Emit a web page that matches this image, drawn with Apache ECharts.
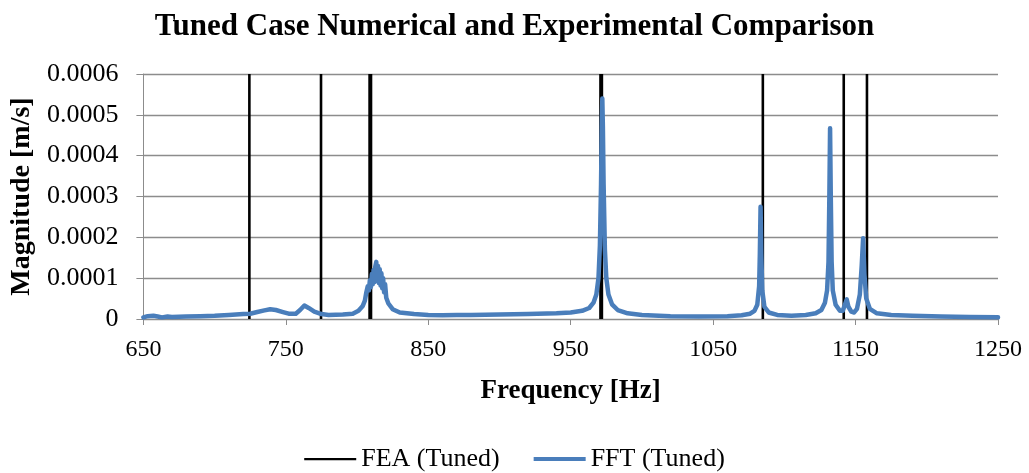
<!DOCTYPE html>
<html>
<head>
<meta charset="utf-8">
<script src="https://cdn.jsdelivr.net/npm/echarts@6/dist/echarts.min.js"></script>
<style>html,body{margin:0;padding:0;background:#fff}#c{width:1029px;height:473px}</style>
</head>
<body>
<div id="c"></div>
<script>
const titleText = 'Tuned Case Numerical and Experimental Comparison';
const xName = 'Frequency [Hz]';
const yName = 'Magnitude [m/s]';
const feaName = 'FEA (Tuned)';
const fftName = 'FFT (Tuned)';

// FEA natural frequencies (vertical lines)
const feaFreqs = [724.4, 774.7, 808.8, 809.8, 970.9, 971.9, 1084.9, 1141.7, 1158.0];
const feaTop = 0.0006;

// FFT measured spectrum
const fftFreq = [650,653,657,660,663,667,670,680,690,700,710,720,725,730,735,739,743,748,752,757,760,763,766,770,775,780,790,797,801,804,805.5,806.5,807.5,808.3,809,809.7,810.4,811,811.6,812.2,812.8,813.5,814.1,814.7,815.3,815.9,816.5,817.1,817.7,818.3,819,819.7,820.5,822,825,830,840,850,860,870,880,900,920,940,950,958,963,966,968,969.5,970.5,971.3,971.8,972.2,972.6,973.1,974,975,976.5,979,983,990,1000,1020,1040,1060,1070,1076,1079,1081,1082.3,1082.8,1083.3,1083.8,1084.5,1086,1089,1095,1105,1115,1122,1126,1128.5,1130,1131,1131.6,1132.1,1132.6,1133.2,1134,1136,1139,1141,1142.5,1143.8,1145,1147,1149,1151,1153,1154.3,1155.3,1156.2,1157.5,1160,1165,1175,1190,1210,1230,1250];
const fftMag = [0.000004,0.000007,0.000008,0.000006,0.000004,0.000006,0.000005,0.000006,0.000007,0.000008,0.000010,0.000012,0.000013,0.000017,0.000021,0.000024,0.000022,0.000017,0.000013,0.000013,0.000022,0.000033,0.000027,0.000018,0.000012,0.000010,0.000011,0.000013,0.000020,0.000032,0.000045,0.000065,0.000080,0.000070,0.000095,0.000078,0.000110,0.000085,0.000120,0.000090,0.000128,0.000140,0.000095,0.000130,0.000088,0.000122,0.000082,0.000112,0.000075,0.000100,0.000065,0.000085,0.000052,0.000038,0.000024,0.000016,0.000012,0.000010,0.000009,0.000010,0.000010,0.000011,0.000012,0.000014,0.000016,0.000020,0.000027,0.000040,0.000060,0.000100,0.000180,0.000330,0.000470,0.000540,0.000470,0.000330,0.000170,0.000100,0.000060,0.000036,0.000022,0.000014,0.000010,0.000007,0.000006,0.000007,0.000009,0.000013,0.000020,0.000035,0.000080,0.000160,0.000275,0.000160,0.000070,0.000030,0.000016,0.000010,0.000008,0.000010,0.000014,0.000022,0.000040,0.000070,0.000140,0.000300,0.000467,0.000300,0.000140,0.000070,0.000035,0.000020,0.000020,0.000035,0.000048,0.000030,0.000018,0.000016,0.000025,0.000060,0.000130,0.000198,0.000110,0.000050,0.000025,0.000014,0.000010,0.000008,0.000006,0.000005,0.000004];

const xTicks = [650, 750, 850, 950, 1050, 1150, 1250];
const yTicks = [0, 0.0001, 0.0002, 0.0003, 0.0004, 0.0005, 0.0006];

const feaData = [];
feaFreqs.forEach(f => { feaData.push([f, 0], [f, feaTop], [f, '-']); });
const fftData = fftFreq.map((f, i) => [f, fftMag[i]]);

const serif = '"Liberation Serif", "DejaVu Serif", serif';
const chart = echarts.init(document.getElementById('c'));
chart.setOption({
  animation: false,
  backgroundColor: '#fff',
  title: {
    text: titleText, left: 'center', top: 6,
    textStyle: { fontFamily: serif, fontSize: 31, fontWeight: 'bold', color: '#000' }
  },
  legend: {
    top: 441, left: 'center', itemWidth: 52, itemHeight: 14, itemGap: 34,
    textStyle: { fontFamily: serif, fontSize: 26, color: '#000' },
    data: [
      { name: feaName, icon: 'path://M0,0h0.05v0.05h-0.05zM0,6h52v2.2h-52zM0,13.95h0.05v0.05h-0.05z', itemStyle: { color: '#000' } },
      { name: fftName, icon: 'path://M0,0h0.05v0.05h-0.05zM0,5h52v4h-52zM0,13.95h0.05v0.05h-0.05z', itemStyle: { color: '#4a7ebb' } }
    ]
  },
  grid: { left: 143, right: 31, top: 74, bottom: 154, containLabel: false },
  xAxis: {
    type: 'value', min: xTicks[0], max: xTicks[xTicks.length - 1], interval: 100,
    name: xName, nameLocation: 'middle', nameGap: 59,
    nameTextStyle: { fontFamily: serif, fontSize: 27, fontWeight: 'bold', color: '#000' },
    axisLine: { show: true, lineStyle: { color: '#8c8c8c', width: 1 } },
    axisTick: { show: true, length: 6, lineStyle: { color: '#8c8c8c' } },
    axisLabel: { fontFamily: serif, fontSize: 24, color: '#000', margin: 19, formatter: v => String(v) },
    splitLine: { show: false }
  },
  yAxis: {
    type: 'value', min: yTicks[0], max: yTicks[yTicks.length - 1], interval: 0.0001,
    name: yName, nameLocation: 'middle', nameGap: 105, nameRotate: 90,
    nameTextStyle: { fontFamily: serif, fontSize: 28, fontWeight: 'bold', color: '#000' },
    axisLine: { show: true, lineStyle: { color: '#8c8c8c', width: 1 } },
    axisTick: { show: true, length: 7, lineStyle: { color: '#8c8c8c' } },
    axisLabel: { fontFamily: serif, fontSize: 26, color: '#000', margin: 25,
      formatter: v => v === 0 ? '0' : v.toFixed(4) },
    splitLine: { show: true, lineStyle: { color: '#8c8c8c', width: 1.3 } }
  },
  series: [
    {
      name: feaName, type: 'line', data: feaData, symbol: 'none', connectNulls: false,
      lineStyle: { color: '#000', width: 2.6 }, itemStyle: { color: '#000' }
    },
    {
      name: fftName, type: 'line', data: fftData, symbol: 'none',
      lineStyle: { color: '#4a7ebb', width: 4.5, join: 'round', cap: 'round' }, itemStyle: { color: '#4a7ebb' }
    }
  ]
});
</script>
</body>
</html>
